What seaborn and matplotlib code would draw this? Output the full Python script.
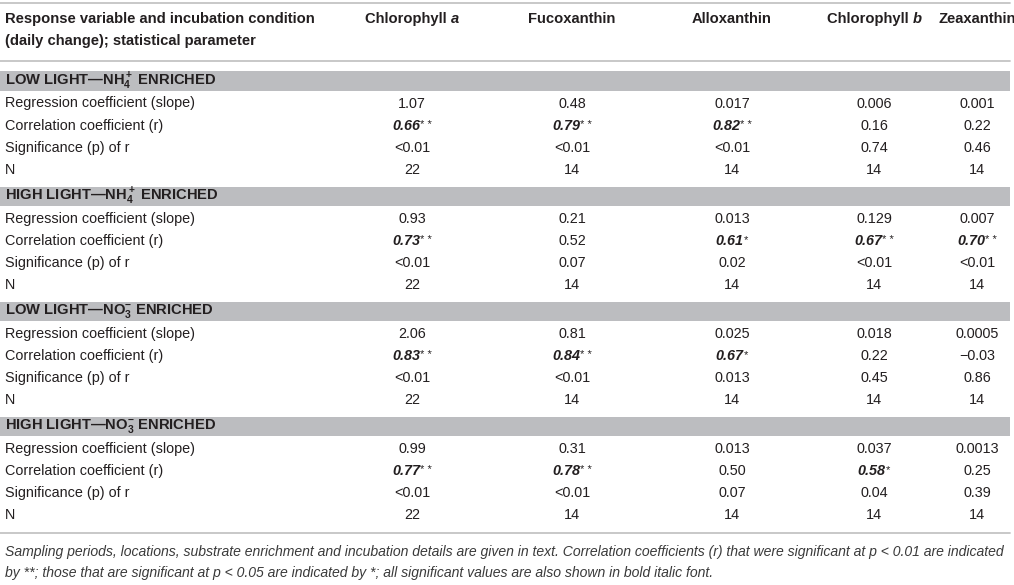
import matplotlib
matplotlib.use("Agg")
import matplotlib.pyplot as plt
import seaborn as sns

sns.set_theme(style="white")
plt.rcParams['font.family'] = ['Liberation Sans', 'DejaVu Sans']
plt.rcParams['mathtext.fontset'] = 'custom'
plt.rcParams['mathtext.rm'] = 'Liberation Sans'
plt.rcParams['mathtext.it'] = 'Liberation Sans:italic'
plt.rcParams['mathtext.bf'] = 'Liberation Sans:bold'
plt.rcParams['mathtext.default'] = 'regular'

# ---------------- data ----------------
header_label = ["Response variable and incubation condition",
                "(daily change); statistical parameter"]
pigments = [("Chlorophyll ", "a"), ("Fucoxanthin", ""), ("Alloxanthin", ""),
            ("Chlorophyll ", "b"), ("Zeaxanthin", "")]
sections = [r"LOW LIGHT—NH$_4^+$ ENRICHED",
            r"HIGH LIGHT—NH$_4^+$ ENRICHED",
            r"LOW LIGHT—NO$_3^{-}$ ENRICHED",
            r"HIGH LIGHT—NO$_3^{-}$ ENRICHED"]
row_labels = ["Regression coefficient (slope)", "Correlation coefficient (r)",
              "Significance (p) of r", "N"]

slope = [["1.07", "0.48", "0.017", "0.006", "0.001"],
         ["0.93", "0.21", "0.013", "0.129", "0.007"],
         ["2.06", "0.81", "0.025", "0.018", "0.0005"],
         ["0.99", "0.31", "0.013", "0.037", "0.0013"]]
corr = [["0.66", "0.79", "0.82", "0.16", "0.22"],
        ["0.73", "0.52", "0.61", "0.67", "0.70"],
        ["0.83", "0.84", "0.67", "0.22", "\u22120.03"],
        ["0.77", "0.78", "0.50", "0.58", "0.25"]]
corr_sig = [["**", "**", "**", "", ""],
            ["**", "", "*", "**", "**"],
            ["**", "**", "*", "", ""],
            ["**", "**", "", "*", ""]]
pval = [["<0.01", "<0.01", "<0.01", "0.74", "0.46"],
        ["<0.01", "0.07", "0.02", "<0.01", "<0.01"],
        ["<0.01", "<0.01", "0.013", "0.45", "0.86"],
        ["<0.01", "<0.01", "0.07", "0.04", "0.39"]]
nvals = [["22", "14", "14", "14", "14"]] * 4

footnote = [
    "Sampling periods, locations, substrate enrichment and incubation details are given in text. "
    "Correlation coefficients (r) that were significant at p < 0.01 are indicated",
    "by **; those that are significant at p < 0.05 are indicated by *; "
    "all significant values are also shown in bold italic font."]

# ---------------- layout ----------------
W, H = 1014, 585
fig = plt.figure(figsize=(W / 100, H / 100), dpi=100)
ax = fig.add_axes([0, 0, 1, 1])
ax.set_xlim(0, W)
ax.set_ylim(H, 0)
ax.axis("off")
renderer = fig.canvas.get_renderer()

TXT = "#231f20"
RULE = "#c4c4c4"
BAND = "#bcbdc0"
FS = 10.4
HFS = 10.6
col_x = [412, 572, 732, 874, 977]
left = 5
right = 1010


def runs(x, y, parts, ha="center"):
    """parts: list of (text, kwargs, dy)"""
    objs = []
    for s, kw, dy in parts:
        t = ax.text(0, y + dy, s, va="center", ha="left", color=TXT, **kw)
        objs.append(t)
    widths = [o.get_window_extent(renderer).width for o in objs]
    total = sum(widths)
    x0 = x - total / 2 if ha == "center" else x
    for o, w in zip(objs, widths):
        o.set_x(x0)
        x0 += w


# top rule
ax.plot([0, right], [3, 3], color=RULE, lw=1.3)
# header
for i, s in enumerate(header_label):
    ax.text(left, 19 + 21.5 * i, s, fontsize=HFS, fontweight="bold", va="center",
            ha="left", color=TXT)
for x, (a, b) in zip(col_x, pigments):
    parts = [(a, dict(fontsize=HFS, fontweight="bold"), 0)]
    if b:
        parts.append((b, dict(fontsize=HFS, fontweight="bold", style="italic"), 0))
    runs(x, 19, parts)
ax.plot([0, right], [60.5, 60.5], color=RULE, lw=1.3)

band0 = 81.2
pitch_sec = 115.1
pitch_row = 22.2
for s, title in enumerate(sections):
    yc = band0 + pitch_sec * s
    ax.fill_between([0, right], yc - 9.8, yc + 9.8, color=BAND, lw=0)
    ax.text(left, yc, title, fontsize=HFS, fontweight="bold", va="center",
            ha="left", color=TXT)
    rows = [slope[s], corr[s], pval[s], nvals[s]]
    for r, (lab, vals) in enumerate(zip(row_labels, rows)):
        y = yc + 22.3 + pitch_row * r
        ax.text(left, y, lab, fontsize=FS, va="center", ha="left", color=TXT)
        for c, (x, v) in enumerate(zip(col_x, vals)):
            if r == 1 and corr_sig[s][c]:
                stars = "* *" if corr_sig[s][c] == "**" else "*"
                runs(x, y, [(v, dict(fontsize=FS, fontweight="bold", style="italic"), 0),
                            (stars, dict(fontsize=FS * 0.78), -1.2)])
            else:
                ax.text(x, y, v, fontsize=FS, va="center", ha="center", color=TXT)

ax.plot([0, right], [533, 533], color=RULE, lw=1.3)

for i, s in enumerate(footnote):
    ax.text(left, 552 + 21 * i, s, fontsize=10.1,
            style="italic", va="center", ha="left", color="#3a3a3a")

fig.savefig("out.png", dpi=100)
